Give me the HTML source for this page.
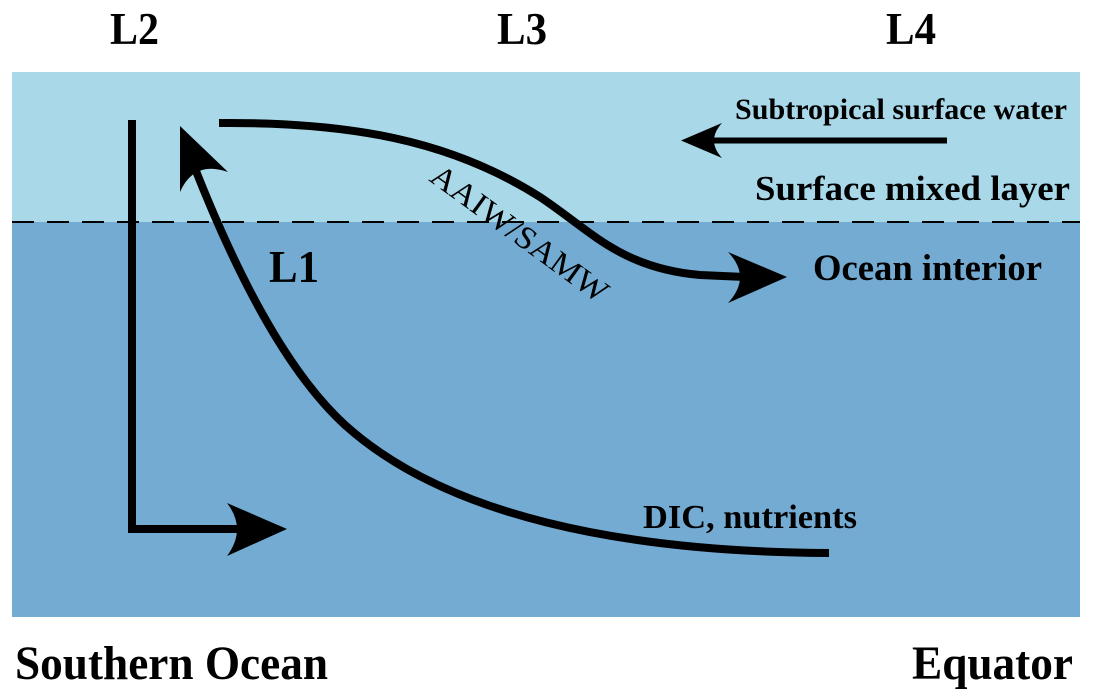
<!DOCTYPE html>
<html>
<head>
<meta charset="utf-8">
<style>
  html, body { margin: 0; padding: 0; background: #ffffff; }
  svg { display: block; }
  svg text { font-family: "Liberation Serif", "Times New Roman", Times, serif; fill: #000; }
</style>
</head>
<body>
<svg width="1093" height="700" viewBox="0 0 1093 700" xmlns="http://www.w3.org/2000/svg" font-family="'Liberation Serif', 'Times New Roman', Times, serif">
  <rect x="0" y="0" width="1093" height="700" fill="#ffffff"/>
  <!-- ocean layers -->
  <rect x="12" y="72" width="1068" height="150" fill="#a9d8e9"/>
  <rect x="12" y="222" width="1068" height="395" fill="#73abd2"/>
  <!-- dashed mixed layer boundary -->
  <line x1="12" y1="222" x2="1080" y2="222" stroke="#000" stroke-width="2" stroke-dasharray="22 13"/>

  <!-- top labels -->
  <text x="110" y="44" font-family="Liberation Serif, serif" font-size="45" font-weight="bold" textLength="49" lengthAdjust="spacingAndGlyphs">L2</text>
  <text x="497" y="44" font-family="Liberation Serif, serif" font-size="45" font-weight="bold" textLength="50" lengthAdjust="spacingAndGlyphs">L3</text>
  <text x="886" y="44" font-family="Liberation Serif, serif" font-size="45" font-weight="bold" textLength="50" lengthAdjust="spacingAndGlyphs">L4</text>

  <!-- bottom labels -->
  <text x="15" y="679" font-family="Liberation Serif, serif" font-size="48" font-weight="bold" textLength="313" lengthAdjust="spacingAndGlyphs">Southern Ocean</text>
  <text x="912" y="679" font-family="Liberation Serif, serif" font-size="48" font-weight="bold" textLength="161" lengthAdjust="spacingAndGlyphs">Equator</text>

  <!-- L-shaped arrow (L2) -->
  <path d="M 132 120 L 132 529 L 240 529" fill="none" stroke="#000" stroke-width="8" stroke-linejoin="miter"/>
  <path d="M 287 529 L 227 503 Q 247 529 227 556 Z" fill="#000"/>

  <!-- L1 upwelling curve -->
  <path d="M 829 553 C 620 552, 445 515, 345 425 C 285 370, 235 270, 194 166" fill="none" stroke="#000" stroke-width="8"/>
  <path d="M 180 126 L 228 172 Q 194 160 180 192 Z" fill="#000"/>
  <text x="269" y="282" font-family="Liberation Serif, serif" font-size="45" font-weight="bold" textLength="50" lengthAdjust="spacingAndGlyphs">L1</text>

  <!-- AAIW/SAMW subduction curve -->
  <path d="M 219 123 C 350 122, 450 140, 540 197 C 590 230, 620 268, 700 275 L 745 277" fill="none" stroke="#000" stroke-width="8"/>
  <path d="M 787 277 L 728 252 Q 752 277 728 303 Z" fill="#000"/>
  <text x="0" y="0" font-family="Liberation Serif, serif" font-size="32" text-anchor="middle" textLength="211" lengthAdjust="spacingAndGlyphs" transform="translate(513.4 242) rotate(36)">AAIW/SAMW</text>

  <!-- Subtropical surface water arrow -->
  <line x1="947" y1="140.5" x2="714" y2="140.5" stroke="#000" stroke-width="6"/>
  <path d="M 681 140.5 L 722 123 Q 706 140.5 722 158 Z" fill="#000"/>
  <text x="735" y="119" font-family="Liberation Serif, serif" font-size="30" font-weight="bold" textLength="332" lengthAdjust="spacingAndGlyphs">Subtropical surface water</text>

  <!-- region labels -->
  <text x="755" y="200" font-family="Liberation Serif, serif" font-size="35" font-weight="bold" textLength="315" lengthAdjust="spacingAndGlyphs">Surface mixed layer</text>
  <text x="813" y="280" font-family="Liberation Serif, serif" font-size="37" font-weight="bold" textLength="229" lengthAdjust="spacingAndGlyphs">Ocean interior</text>
  <text x="643" y="528" font-family="Liberation Serif, serif" font-size="34" font-weight="bold" textLength="214" lengthAdjust="spacingAndGlyphs">DIC, nutrients</text>
</svg>
</body>
</html>
